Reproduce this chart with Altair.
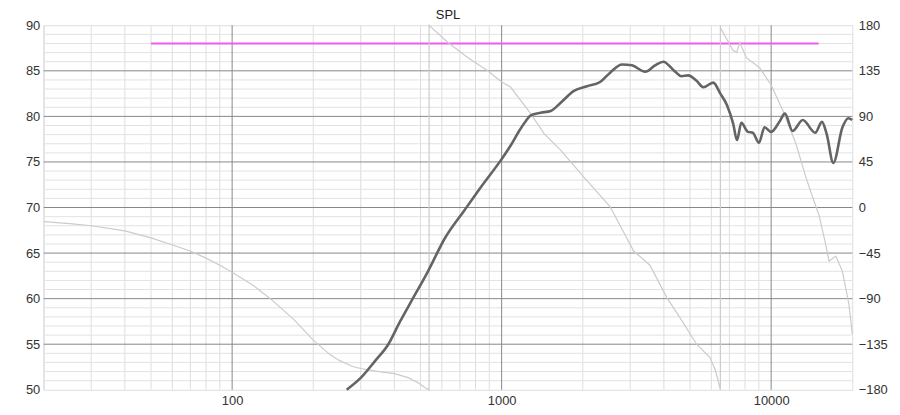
import altair as alt
import pandas as pd

# ---- data ----
spl_freq = [266, 300, 340, 380, 420, 462, 533, 615, 728, 850, 994, 1080, 1161, 1230, 1282,
            1396, 1520, 1656, 1855, 2075, 2327, 2527, 2800, 3044, 3409, 3711, 3981, 4335,
            4653, 4925, 5290, 5598, 6097, 6480, 6865, 7228, 7470, 7750, 8200, 8550, 9010,
            9450, 10000, 10730, 11250, 12010, 13100, 14580, 15440, 16060, 17010, 18390,
            19360, 20000]
spl_db = [50.0, 51.3, 53.2, 55.0, 57.5, 59.7, 63.0, 66.6, 69.7, 72.5, 75.2, 76.8, 78.4, 79.5,
          80.1, 80.4, 80.6, 81.5, 82.8, 83.3, 83.8, 84.8, 85.7, 85.6, 84.9, 85.6, 86.0, 85.1,
          84.4, 84.5, 83.9, 83.2, 83.7, 82.5, 81.2, 79.2, 77.4, 79.3, 78.3, 78.2, 77.1,
          78.8, 78.3, 79.4, 80.3, 78.4, 79.6, 78.2, 79.4, 78.1, 74.9, 78.8, 79.8, 79.6]

phase_freq = [20, 25, 30, 40, 50, 60, 70, 80, 90, 100, 120, 140, 170, 200, 230, 250, 280,
              300, 350, 400, 450, 490, 520, 538, 538, 632, 750, 888, 1000, 1079, 1280,
              1437, 1652, 2019, 2524, 3090, 3550, 4102, 4594, 5290, 5919, 6200, 6443, 6480,
              6480, 6500, 7228, 7450, 7647, 8090, 9063, 10000, 11040, 12360, 13450, 14650,
              15070, 15950, 16400, 17380, 18390, 19450, 20000]
phase_deg = [-14, -16, -18, -23, -30, -37, -43, -50, -57, -64, -77, -91, -111, -131, -145,
             -151, -157, -159, -162, -164, -168, -173, -178, -180, 180, 163, 148, 135, 124,
             119, 93, 73, 57, 30, 1, -43, -57, -89, -109, -135, -148, -160, -177, -180,
             180, 177, 155, 153, 163, 148, 138, 121, 96, 63, 30, 1, -8, -37, -53, -48, -63,
             -96, -125]

target_freq = [50, 15000]
target_db = [88.0, 88.0]

x_minor = [20, 30, 40, 50, 60, 70, 80, 90, 200, 300, 400, 500, 600, 700, 800, 900,
           2000, 3000, 4000, 5000, 6000, 7000, 8000, 9000]
x_major = [100, 1000, 10000]
y_minor = [v for v in range(51, 90) if v % 5 != 0]
y_major = [55, 60, 65, 70, 75, 80, 85]
y_labels = [50, 55, 60, 65, 70, 75, 80, 85, 90]
phase_labels = [-180, -135, -90, -45, 0, 45, 90, 135, 180]

FONT = "Liberation Sans"
xscale = alt.Scale(type="log", domain=[20, 20000], nice=False)
yscale = alt.Scale(domain=[50, 90], nice=False, zero=False)
xaxis = alt.Axis(orient="bottom", values=x_major, format="d", domain=False, ticks=False,
                 grid=False, labelFont=FONT, labelFontSize=13, labelColor="#333",
                 labelPadding=5)


def xenc():
    return alt.X("f:Q", scale=xscale, title=None, axis=xaxis)


spl_df = pd.DataFrame({"f": spl_freq, "db": spl_db})
ph_df = pd.DataFrame({"f": phase_freq, "deg": phase_deg, "i": list(range(len(phase_freq)))})
tg_df = pd.DataFrame({"f": target_freq, "db": target_db})

vminor = alt.Chart(pd.DataFrame({"f": x_minor})).mark_rule(color="#dedede", strokeWidth=1).encode(
    x=xenc())
vmajor = alt.Chart(pd.DataFrame({"f": x_major})).mark_rule(color="#878787", strokeWidth=1).encode(
    x=xenc())
hminor = alt.Chart(pd.DataFrame({"y": y_minor})).mark_rule(color="#e2e2e2", strokeWidth=1).encode(
    y=alt.Y("y:Q", scale=yscale, axis=None))
hmajor = alt.Chart(pd.DataFrame({"y": y_major})).mark_rule(color="#878787", strokeWidth=1).encode(
    y=alt.Y("y:Q", scale=yscale, axis=None))

target = alt.Chart(tg_df).mark_line(color="#f05af0", strokeWidth=2).encode(
    x=xenc(),
    y=alt.Y("db:Q", scale=yscale, axis=None))

phase = alt.Chart(ph_df).mark_line(color="#cbcbcb", strokeWidth=1.2).encode(
    x=xenc(),
    y=alt.Y("deg:Q", scale=alt.Scale(domain=[-180, 180], nice=False), title=None,
            axis=alt.Axis(orient="right", values=phase_labels, domain=False, ticks=False,
                          grid=False, labelFont=FONT, labelFontSize=13, labelColor="#333",
                          labelPadding=6)),
    order=alt.Order("i:Q"))

spl = alt.Chart(spl_df).mark_line(color="#646464", strokeWidth=2.6, interpolate="monotone").encode(
    x=xenc(),
    y=alt.Y("db:Q", scale=yscale, title=None,
            axis=alt.Axis(orient="left", values=y_labels, domain=False, ticks=False, grid=False,
                          labelFont=FONT, labelFontSize=13, labelColor="#333", labelPadding=4)))

chart = alt.layer(vminor, hminor, vmajor, hmajor, target, phase, spl).resolve_scale(
    y="independent").properties(
    width=814, height=367,
    title=alt.TitleParams("SPL", font=FONT, fontSize=13, fontWeight="normal", color="#222",
                          anchor="middle", offset=-3),
    padding={"left": 36, "top": 16, "right": 40, "bottom": 20},
    autosize=alt.AutoSizeParams(type="none"),
).configure_view(stroke="#747474", strokeWidth=1).configure(background="white")

chart.save("out.html", embed_options={"renderer": "svg", "actions": False})
